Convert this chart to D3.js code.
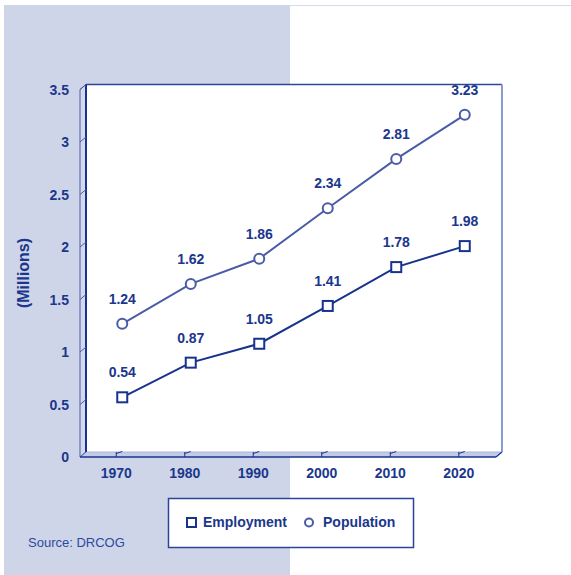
<!DOCTYPE html>
<html>
<head>
<meta charset="utf-8">
<script src="https://d3js.org/d3.v7.min.js"></script>
<style>
  html, body { margin: 0; padding: 0; background: #ffffff; }
  svg { display: block; font-family: "Liberation Sans", Arial, Helvetica, sans-serif; }
</style>
</head>
<body>
<svg id="chart" width="571" height="575"></svg>
<script>
// Regional employment and population, in millions
const years = ["1970", "1980", "1990", "2000", "2010", "2020"];
const employment = [0.54, 0.87, 1.05, 1.41, 1.78, 1.98];
const population = [1.24, 1.62, 1.86, 2.34, 2.81, 3.23];
const yTicks = [0, 0.5, 1, 1.5, 2, 2.5, 3, 3.5];
const seriesNames = ["Employment", "Population"];

const W = 571, H = 575;
const navy = "#17338e";
const popBlue = "#4a5ca8";
const textBlue = "#1a378c";
const panel = "#cfd5e8";

const svg = d3.select("#chart");

// Background: tinted left panel and thin top rule
svg.append("rect").attr("x", 0).attr("y", 0).attr("width", W).attr("height", H).attr("fill", "#ffffff");
svg.append("rect").attr("x", 4).attr("y", 5).attr("width", 286).attr("height", H - 5).attr("fill", panel);
svg.append("line").attr("x1", 290).attr("x2", W).attr("y1", 5.5).attr("y2", 5.5)
  .attr("stroke", "#d6dbec").attr("stroke-width", 1);

// Scales (front plane of the pseudo-3D box)
const x = d3.scaleBand().domain(years).range([82, 493]);
const y = d3.scaleLinear().domain([0, 3.5]).range([457, 89.5]);
const depthX = 6, depthY = -5;
const left = 80, right = 496;
const y0 = y(0), yTop = y(3.5);

// Back wall
svg.append("rect")
  .attr("x", left + depthX).attr("y", yTop + depthY)
  .attr("width", right - left).attr("height", y0 - yTop)
  .attr("fill", "#ffffff");

// Left side wall
svg.append("path")
  .attr("d", `M${left},${yTop} L${left + depthX},${yTop + depthY} L${left + depthX},${y0 + depthY} L${left},${y0} Z`)
  .attr("fill", "#d3d9ec").attr("stroke", "#4a5ca8").attr("stroke-width", 1);

// Floor
svg.append("path")
  .attr("d", `M${left},${y0} L${left + depthX},${y0 + depthY} L${right + depthX},${y0 + depthY} L${right},${y0} Z`)
  .attr("fill", "#c3cbe5").attr("stroke", "none");
svg.append("line")
  .attr("x1", left + depthX).attr("x2", right + depthX)
  .attr("y1", y0 + depthY).attr("y2", y0 + depthY)
  .attr("stroke", "#aab5dc").attr("stroke-width", 1);
svg.append("line")
  .attr("x1", right).attr("x2", right + depthX)
  .attr("y1", y0).attr("y2", y0 + depthY)
  .attr("stroke", navy).attr("stroke-width", 1.2);

// Back wall edges
svg.append("line")
  .attr("x1", left + depthX).attr("x2", right + depthX)
  .attr("y1", yTop + depthY).attr("y2", yTop + depthY)
  .attr("stroke", "#2f4699").attr("stroke-width", 1.3);
svg.append("line")
  .attr("x1", right + depthX).attr("x2", right + depthX)
  .attr("y1", yTop + depthY).attr("y2", y0 + depthY)
  .attr("stroke", "#8c9ad0").attr("stroke-width", 2);
svg.append("line")
  .attr("x1", left + depthX).attr("x2", left + depthX)
  .attr("y1", yTop + depthY).attr("y2", y0 + depthY)
  .attr("stroke", navy).attr("stroke-width", 2);

// Y ticks on side wall
svg.append("g").selectAll("line").data(yTicks).join("line")
  .attr("x1", left).attr("y1", d => y(d))
  .attr("x2", left + depthX).attr("y2", d => y(d) + depthY)
  .attr("stroke", "#4a5ca8").attr("stroke-width", 1);

// Front floor edge
svg.append("line")
  .attr("x1", left).attr("x2", right)
  .attr("y1", y0).attr("y2", y0)
  .attr("stroke", navy).attr("stroke-width", 1.5);

// X ticks across the floor
const xt = svg.append("g");
xt.selectAll("line.v").data(years).join("line").attr("class", "v")
  .attr("x1", d => x(d) + x.bandwidth() / 2).attr("x2", d => x(d) + x.bandwidth() / 2)
  .attr("y1", y0).attr("y2", y0 + depthY)
  .attr("stroke", navy).attr("stroke-width", 1);
xt.selectAll("line.d").data(years).join("line").attr("class", "d")
  .attr("x1", d => x(d) + x.bandwidth() / 2).attr("x2", d => x(d) + x.bandwidth() / 2 + depthX)
  .attr("y1", y0 + depthY + 1.5).attr("y2", y0 + depthY - 0.5)
  .attr("stroke", navy).attr("stroke-width", 1);

// Axis labels
svg.append("g").selectAll("text").data(yTicks).join("text")
  .attr("x", 69).attr("y", d => y(d)).attr("dy", "0.36em")
  .attr("text-anchor", "end")
  .attr("font-size", 14).attr("font-weight", "bold").attr("fill", textBlue)
  .text(d => d);

svg.append("g").selectAll("text").data(years).join("text")
  .attr("x", d => x(d) + x.bandwidth() / 2).attr("y", 478)
  .attr("text-anchor", "middle")
  .attr("font-size", 14).attr("font-weight", "bold").attr("fill", textBlue)
  .text(d => d);

svg.append("text")
  .attr("transform", `translate(29,273) rotate(-90)`)
  .attr("text-anchor", "middle")
  .attr("font-size", 16).attr("font-weight", "bold").attr("fill", textBlue)
  .text("(Millions)");

// Series drawn on the back plane
const px = d => x(d) + x.bandwidth() / 2 + depthX;
const py = v => y(v) - 3;

function drawSeries(values, color, shape) {
  const pts = years.map((yr, i) => ({ yr, v: values[i] }));
  svg.append("path")
    .datum(pts)
    .attr("fill", "none").attr("stroke", color).attr("stroke-width", 2)
    .attr("d", d3.line().x(d => px(d.yr)).y(d => py(d.v)));
  const g = svg.append("g");
  if (shape === "square") {
    g.selectAll("rect").data(pts).join("rect")
      .attr("x", d => px(d.yr) - 5).attr("y", d => py(d.v) - 5)
      .attr("width", 10).attr("height", 10)
      .attr("fill", "#ffffff").attr("stroke", color).attr("stroke-width", 2);
  } else {
    g.selectAll("circle").data(pts).join("circle")
      .attr("cx", d => px(d.yr)).attr("cy", d => py(d.v)).attr("r", 5)
      .attr("fill", "#ffffff").attr("stroke", color).attr("stroke-width", 2);
  }
  g.selectAll("text").data(pts).join("text")
    .attr("x", d => px(d.yr)).attr("y", d => py(d.v) - 25).attr("dy", "0.36em")
    .attr("text-anchor", "middle")
    .attr("font-size", 14).attr("font-weight", "bold").attr("fill", textBlue)
    .text(d => d3.format(".2f")(d.v));
}
drawSeries(population, popBlue, "circle");
drawSeries(employment, navy, "square");

// Legend
const lg = svg.append("g");
lg.append("rect").attr("x", 168.5).attr("y", 498.5).attr("width", 245).attr("height", 49)
  .attr("fill", "#ffffff").attr("stroke", "#2a4499").attr("stroke-width", 1.5);
lg.append("rect").attr("x", 187).attr("y", 518).attr("width", 9).attr("height", 9)
  .attr("fill", "#ffffff").attr("stroke", navy).attr("stroke-width", 2);
lg.append("text").attr("x", 203).attr("y", 527)
  .attr("font-size", 14).attr("font-weight", "bold").attr("fill", textBlue).text(seriesNames[0]);
lg.append("circle").attr("cx", 309).attr("cy", 522.5).attr("r", 4)
  .attr("fill", "#ffffff").attr("stroke", popBlue).attr("stroke-width", 2);
lg.append("text").attr("x", 323).attr("y", 527)
  .attr("font-size", 14).attr("font-weight", "bold").attr("fill", textBlue).text(seriesNames[1]);

// Source note
svg.append("text").attr("x", 28).attr("y", 547)
  .attr("font-size", 13).attr("fill", "#2b4a9c").text("Source: DRCOG");
</script>
</body>
</html>
